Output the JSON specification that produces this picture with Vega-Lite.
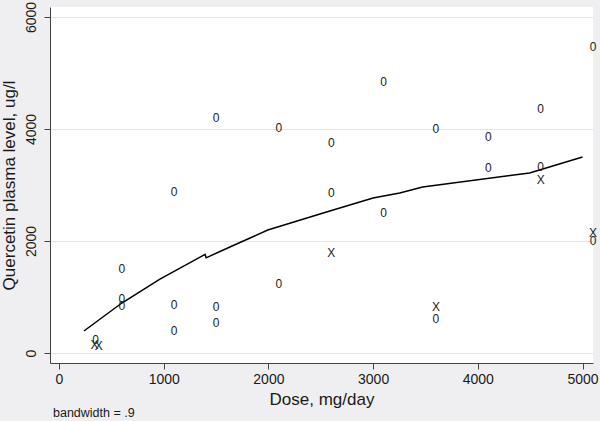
{
  "$schema": "https://vega.github.io/schema/vega-lite/v6.json",
  "width": 543,
  "height": 356,
  "autosize": {"type": "none"},
  "padding": {"left": 50, "top": 7, "right": 7, "bottom": 58},
  "background": "#EFEFF1",
  "config": {
    "view": {"fill": "white", "stroke": null},
    "font": "Liberation Sans",
    "axis": {
      "domainColor": "#444",
      "tickColor": "#444",
      "tickSize": 6,
      "labelColor": "#1a1a1a",
      "titleColor": "#1a1a1a",
      "titleFontWeight": "normal",
      "labelFontSize": 14,
      "titleFontSize": 17,
      "format": "d"
    }
  },
  "title": {
    "text": "bandwidth = .9",
    "orient": "bottom",
    "anchor": "start",
    "frame": "group",
    "fontSize": 12.5,
    "fontWeight": "normal",
    "color": "#1a1a1a",
    "offset": 0,
    "dx": 3
  },
  "datasets": {
    "pts": [
      {"dose": 350, "level": 230, "sym": "0"},
      {"dose": 340, "level": 150, "sym": "X"},
      {"dose": 380, "level": 130, "sym": "X"},
      {"dose": 600, "level": 1500, "sym": "0"},
      {"dose": 600, "level": 960, "sym": "0"},
      {"dose": 600, "level": 840, "sym": "0"},
      {"dose": 1100, "level": 2875, "sym": "0"},
      {"dose": 1100, "level": 857, "sym": "0"},
      {"dose": 1100, "level": 393, "sym": "0"},
      {"dose": 1500, "level": 4200, "sym": "0"},
      {"dose": 1500, "level": 821, "sym": "0"},
      {"dose": 1500, "level": 536, "sym": "0"},
      {"dose": 2100, "level": 4018, "sym": "0"},
      {"dose": 2100, "level": 1232, "sym": "0"},
      {"dose": 2600, "level": 3750, "sym": "0"},
      {"dose": 2600, "level": 2857, "sym": "0"},
      {"dose": 2600, "level": 1786, "sym": "X"},
      {"dose": 3100, "level": 4840, "sym": "0"},
      {"dose": 3100, "level": 2500, "sym": "0"},
      {"dose": 3600, "level": 4000, "sym": "0"},
      {"dose": 3600, "level": 821, "sym": "X"},
      {"dose": 3600, "level": 607, "sym": "0"},
      {"dose": 4100, "level": 3857, "sym": "0"},
      {"dose": 4100, "level": 3303, "sym": "0"},
      {"dose": 4600, "level": 4357, "sym": "0"},
      {"dose": 4600, "level": 3321, "sym": "0"},
      {"dose": 4600, "level": 3089, "sym": "X"},
      {"dose": 5100, "level": 5464, "sym": "0"},
      {"dose": 5100, "level": 2143, "sym": "X"},
      {"dose": 5100, "level": 2000, "sym": "0"}
    ],
    "lowess": [
      {"dose": 238, "level": 393},
      {"dose": 600, "level": 893},
      {"dose": 964, "level": 1321},
      {"dose": 1395, "level": 1760},
      {"dose": 1405, "level": 1700},
      {"dose": 1632, "level": 1893},
      {"dose": 1994, "level": 2196},
      {"dose": 2586, "level": 2536},
      {"dose": 3000, "level": 2768},
      {"dose": 3254, "level": 2857},
      {"dose": 3473, "level": 2964},
      {"dose": 4494, "level": 3214},
      {"dose": 5000, "level": 3500}
    ]
  },
  "encoding": {
    "x": {
      "field": "dose",
      "type": "quantitative",
      "scale": {"domain": [-86, 5100], "nice": false, "zero": false},
      "axis": {
        "title": "Dose, mg/day",
        "values": [0, 1000, 2000, 3000, 4000, 5000],
        "grid": false,
        "labelPadding": 3,
        "titlePadding": 5
      }
    },
    "y": {
      "field": "level",
      "type": "quantitative",
      "scale": {"domain": [-178, 6178], "nice": false, "zero": false},
      "axis": {
        "title": "Quercetin plasma level, ug/l",
        "values": [0, 2000, 4000, 6000],
        "grid": true,
        "gridColor": "#E3E3E3",
        "labelAngle": 270,
        "labelAlign": "center",
        "labelBaseline": "bottom",
        "labelPadding": 6,
        "titlePadding": 6
      }
    }
  },
  "layer": [
    {
      "data": {"name": "lowess"},
      "mark": {"type": "line", "color": "black", "strokeWidth": 1.5}
    },
    {
      "data": {"name": "pts"},
      "mark": {"type": "text", "fontSize": 12, "fill": "#222222", "align": "center", "baseline": "middle"},
      "encoding": {"text": {"field": "sym", "type": "nominal"}}
    }
  ]
}
